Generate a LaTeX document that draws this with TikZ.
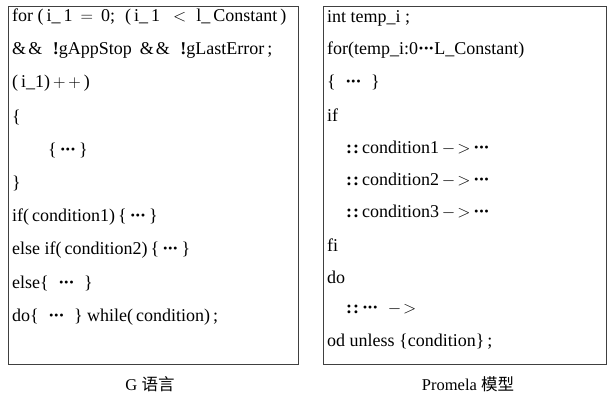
\documentclass[tikz,border=0pt]{standalone}
\usepackage{fontspec}
\setmainfont{Liberation Serif}
\newfontfamily\cjk{Noto Sans CJK SC}
\newcommand{\mydots}{\textbf{\textperiodcentered\kern-0.05em\textperiodcentered\kern-0.05em\textperiodcentered}}
\newcommand{\dcolon}{\textbf{:\kern0.05em:}}
\newcommand{\amp}{\&\kern0.12em\&\kern0.3em}
\begin{document}
\begin{tikzpicture}[x=1pt,y=-1pt,
  codeline/.style={anchor=west,inner sep=0pt,font=\fontsize{18}{21}\selectfont},
  codebox/.style={draw=black!75,line width=0.9pt,anchor=north west,inner sep=0pt},
  caption/.style={inner sep=0pt,font=\fontsize{16.5}{20}\selectfont}]
\useasboundingbox (0,0) rectangle (611,400);
\node[codebox,minimum width=290pt,minimum height=358pt] (lbox) at (8,6) {};
\node[codebox,minimum width=283pt,minimum height=358pt] (rbox) at (323,6) {};
% left code
\node[codeline] (l1) at (12,17) {for (\,i\_\,1\;\,$=$\;\,0;\;\;(\,i\_\,1\;\;\,$<$\;\;l\_\,Constant\,)};
\node[codeline] (l2) at (12,50.3) {\amp\;\textbf{!}gAppStop\;\,\amp\;\textbf{!}gLastError\,;};
\node[codeline] (l3) at (12,83.6) {(\,i\_1)\,$+\,+$\,)};
\node[codeline] (l4) at (12,117) {\{};
\node[codeline] (l5) at (48,150.3) {\{\,\mydots\,\}};
\node[codeline] (l6) at (12,183.6) {\}};
\node[codeline] (l7) at (12,217) {if(\,condition1)\,\{\,\mydots\,\}};
\node[codeline] (l8) at (12,250.3) {else if(\,condition2)\,\{\,\mydots\,\}};
\node[codeline] (l9) at (12,283.6) {else\{\; \mydots\; \}};
\node[codeline] (l10) at (12,317) {do\{\; \mydots\; \} while(\,condition)\,;};
% right code
\node[codeline] (r1) at (327,18) {int temp\_i ;};
\node[codeline] (r2) at (327,50.4) {for(temp\_i:0\mydots L\_Constant)};
\node[codeline] (r3) at (327,82.8) {\{\; \mydots\; \}};
\node[codeline] (r4) at (327,115.2) {if};
\node[codeline] (r5) at (346,147.6) {\dcolon\,condition1$\,-\!>$\,\mydots};
\node[codeline] (r6) at (346,180) {\dcolon\,condition2$\,-\!>$\,\mydots};
\node[codeline] (r7) at (346,212.4) {\dcolon\,condition3$\,-\!>$\,\mydots};
\node[codeline] (r8) at (327,244.8) {fi};
\node[codeline] (r9) at (327,277.2) {do};
\node[codeline] (r10) at (346,309.6) {\dcolon\,\mydots\; $-\!>$};
\node[codeline] (r11) at (327,342) {od unless \{condition\}\,;};
% captions
\node[caption] (cl) at (150,384) {G {\cjk 语言}};
\node[caption] (cr) at (468,384) {Promela {\cjk 模型}};
\end{tikzpicture}
\end{document}
